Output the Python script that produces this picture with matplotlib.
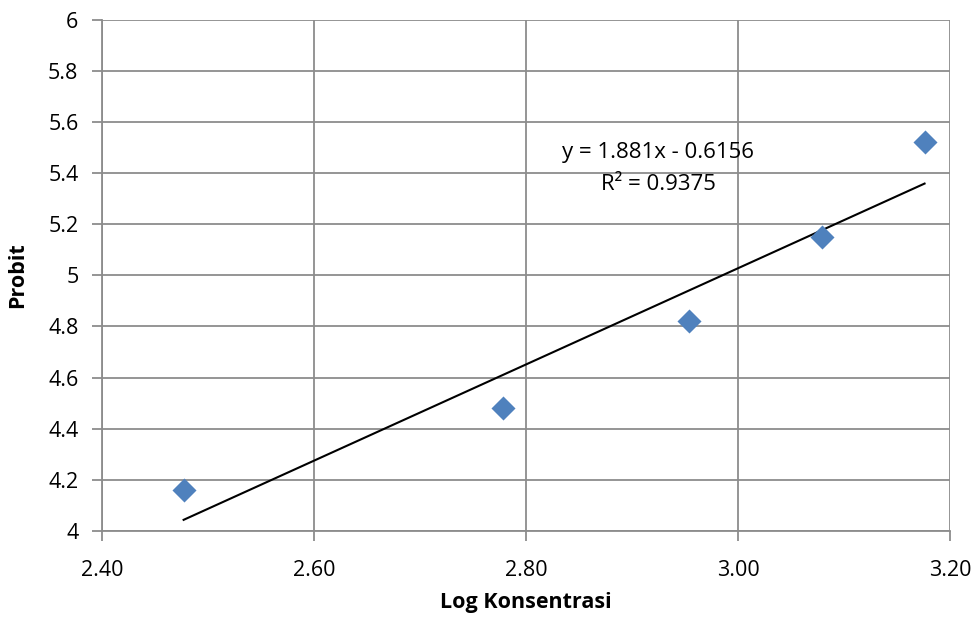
import matplotlib
matplotlib.use("Agg")
import matplotlib.pyplot as plt
import numpy as np

log_konsentrasi = [2.477, 2.778, 2.954, 3.079, 3.176]
probit = [4.16, 4.48, 4.82, 5.15, 5.52]
slope = 1.881
intercept = -0.6156
r_squared = 0.9375
x_ticks = [2.40, 2.60, 2.80, 3.00, 3.20]
y_ticks = [4, 4.2, 4.4, 4.6, 4.8, 5, 5.2, 5.4, 5.6, 5.8, 6]

plt.rcParams['font.family'] = ['Open Sans', 'DejaVu Sans']

fig = plt.figure(figsize=(9.78, 6.19), dpi=100)
ax = fig.add_axes([102/978, 1 - 531/619, (950-102)/978, (531-19.5)/619])

grid_c = '#8c8c8c'
ax.set_xlim(2.40, 3.20)
ax.set_ylim(4, 6)
ax.set_xticks(x_ticks)
ax.set_xticklabels([f"{v:.2f}" for v in x_ticks])
ax.set_yticks(y_ticks)
ax.set_yticklabels([f"{v:g}" for v in y_ticks])
ax.grid(True, color=grid_c, linewidth=1.3)
ax.set_axisbelow(True)
for s in ['top', 'right']:
    ax.spines[s].set_visible(False)
for s in ['left', 'bottom']:
    ax.spines[s].set_color(grid_c)
    ax.spines[s].set_linewidth(1.3)
ax.tick_params(axis='both', direction='out', length=7, width=1.3, color=grid_c,
               labelsize=15.5)
ax.tick_params(axis='y', pad=10)
ax.tick_params(axis='x', pad=14)

xs = np.array([min(log_konsentrasi), max(log_konsentrasi)])
ax.plot(xs, slope * xs + intercept, color='black', linewidth=1.5, zorder=3)
ax.scatter(log_konsentrasi, probit, marker='D', s=150, color='#4F81BD', zorder=4,
           linewidths=0)

ax.text(2.925, 5.48, f"y = {slope}x - {abs(intercept)}", ha='center', va='center', fontsize=16)
ax.text(2.925, 5.355, f"R² = {r_squared}", ha='center', va='center', fontsize=16)

ax.set_xlabel("Log Konsentrasi", fontsize=15.5, fontweight='bold', labelpad=8)
ax.set_ylabel("Probit", fontsize=15.5, fontweight='bold', labelpad=14)

fig.savefig("out.png", dpi=100, facecolor='white')
